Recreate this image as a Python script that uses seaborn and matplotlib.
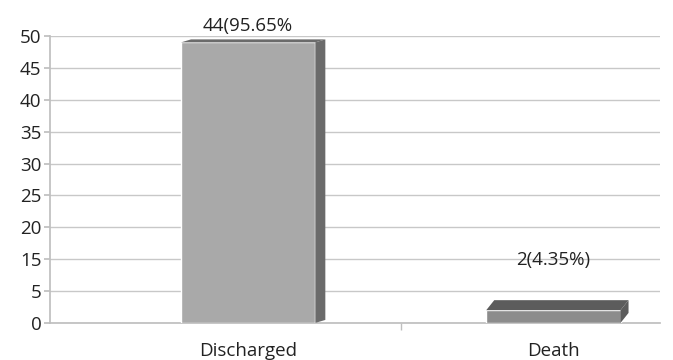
import matplotlib
matplotlib.use("Agg")
import matplotlib.pyplot as plt
import seaborn as sns
import pandas as pd
import numpy as np
from matplotlib.patches import Polygon

categories = ["Discharged", "Death"]
values = [44, 2]
bar_labels = ["44(95.65%", "2(4.35%)"]
tick_positions = [0, 5, 10, 15, 20, 25, 30, 35, 40, 45]
tick_labels = ["0", "5", "15", "20", "25", "30", "35", "40", "45", "50"]

front_colors = ["#a9a9a9", "#8c8c8c"]
side_colors = ["#6b6b6b", "#5c5c5c"]
face_offsets = [(10, 3), (8, 10)]  # pixel depth of the pseudo-3D faces

sns.set_theme(style="white")
plt.rcParams["font.family"] = ["Open Sans", "DejaVu Sans"]

df = pd.DataFrame({"cat": categories, "val": values})

fig = plt.figure(figsize=(6.73, 3.6), dpi=100)
ax = fig.add_axes([0.074, 0.103, 0.907, 0.797])

sns.barplot(data=df, x="cat", y="val", hue="cat", palette=front_colors,
            width=0.44, legend=False, ax=ax, zorder=3, saturation=1)

ax.set_ylim(0, 45)
ax.set_xlim(-0.65, 1.35)
ax.set_yticks(tick_positions)
ax.set_yticklabels(tick_labels)
ax.yaxis.grid(True, color="#c8c8c8", linewidth=1.0, zorder=0)
ax.set_axisbelow(True)
for s in ["top", "right"]:
    ax.spines[s].set_visible(False)
ax.spines["left"].set_color("#bfbfbf")
ax.spines["bottom"].set_color("#bfbfbf")
ax.set_xlabel("")
ax.set_ylabel("")
ax.tick_params(axis="y", labelsize=13.5, colors="#222222", length=4, color="#bfbfbf", left=True, pad=2)
ax.tick_params(axis="x", labelsize=13.5, colors="#222222", length=0, pad=14)
ax.set_xticks([0.5], minor=True)
ax.tick_params(axis="x", which="minor", length=5, color="#bfbfbf", bottom=True)

# pseudo-3D side and top faces derived from bar geometry
fig.canvas.draw()
inv = ax.transData.inverted()
for patch, sc, (dx, dy) in zip(ax.patches, side_colors, face_offsets):
    x0, y0 = patch.get_x(), patch.get_y()
    w, h = patch.get_width(), patch.get_height()
    p = ax.transData.transform([(x0, y0), (x0 + w, y0 + h)])
    (px0, py0), (px1, py1) = p
    side = inv.transform([(px1, py0), (px1 + dx, py0 + dy), (px1 + dx, py1 + dy), (px1, py1)])
    top = inv.transform([(px0, py1), (px1, py1), (px1 + dx, py1 + dy), (px0 + dx, py1 + dy)])
    ax.add_patch(Polygon(side, closed=True, facecolor=sc, edgecolor="none", zorder=3))
    ax.add_patch(Polygon(top, closed=True, facecolor=sc, edgecolor="none", zorder=3))

paddings = [5, 30]
for cont, lab, pad in zip(ax.containers, bar_labels, paddings):
    ax.bar_label(cont, labels=[lab], padding=pad, fontsize=13.5, color="#222222")

fig.savefig("out.png", dpi=100)
